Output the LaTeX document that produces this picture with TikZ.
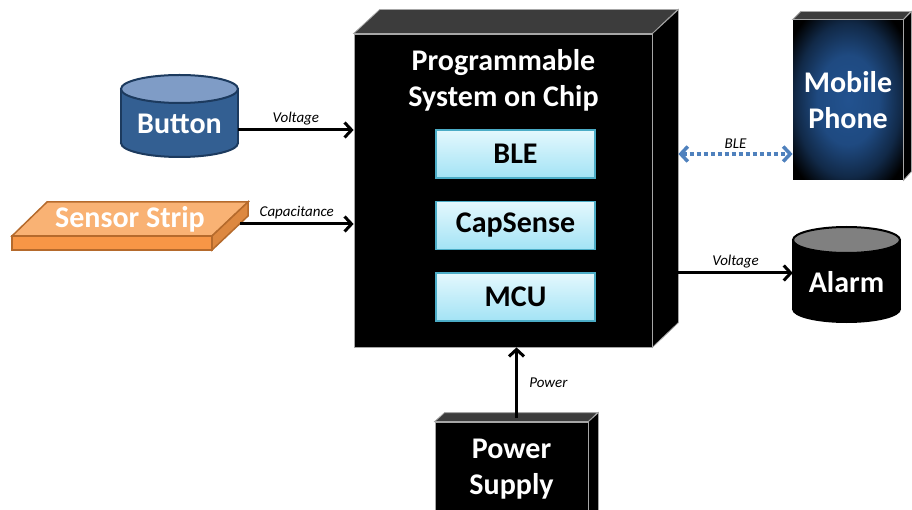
\documentclass[tikz,border=0pt]{standalone}
\usepackage{fontspec}
\setmainfont{Carlito}
\usetikzlibrary{arrows.meta}

\definecolor{cielHaut}{HTML}{E4F8FD}
\definecolor{cielBas}{HTML}{A3E3F5}
\definecolor{cielBord}{HTML}{4BACC6}
\definecolor{bleuCorps}{HTML}{335F92}
\definecolor{bleuDessus}{HTML}{7F9CC6}
\definecolor{bleuBord}{HTML}{1C3A5E}
\definecolor{bleuBLE}{HTML}{4F81BD}
\definecolor{bleuEcran}{HTML}{22528F}
\definecolor{orangeClair}{HTML}{F9B274}
\definecolor{orangeFace}{HTML}{F79646}
\definecolor{orangeCote}{HTML}{DD8840}
\definecolor{orangeBord}{HTML}{B56A2C}
\definecolor{grisDessus}{HTML}{3C3C3C}

% degrade de l'ecran du telephone
\pgfdeclareradialshading{ecran}{\pgfpoint{0bp}{0bp}}{color(0bp)=(bleuEcran); color(14bp)=(bleuEcran!90!black); color(24bp)=(bleuEcran!50!black); color(32bp)=(black); color(50bp)=(black)}

% cylindre : x centre, rayon x, y haut, y bas, rayon y, corps, dessus, bord
\newcommand{\cylindre}[8]{%
	\filldraw[fill=#6,draw=#8,line width=2pt] (#1,#4) ellipse [x radius=#2,y radius=#5];
	\fill[#6] ({#1-#2},#3) rectangle ({#1+#2},#4);
	\draw[#8,line width=2pt] ({#1-#2},#3) -- ({#1-#2},#4) ({#1+#2},#3) -- ({#1+#2},#4);
	\filldraw[fill=#7,draw=#8,line width=2pt] (#1,#3) ellipse [x radius=#2,y radius=#5];}

\begin{document}
\begin{tikzpicture}[x=1pt,y=-1pt]
		% Styles
		\tikzstyle{lien}=[-{Straight Barb[length=7pt,width=15pt]},line width=3pt]
		\tikzstyle{lienBLE}=[{Straight Barb[length=7pt,width=15pt]}-{Straight Barb[length=7pt,width=15pt]},line width=3.5pt,draw=bleuBLE,dash pattern=on 4pt off 3pt]
		\tikzstyle{bloc}=[inner sep=0pt,align=center,text=white,font=\fontsize{30}{36}\selectfont\bfseries]
		\tikzstyle{boite}=[fill=black,draw=gray!70,line width=0.8pt]
		\tikzstyle{dessus}=[fill=grisDessus,draw=gray!70,line width=0.8pt]
		\tikzstyle{module}=[draw=cielBord,line width=1.5pt,top color=cielHaut,bottom color=cielBas,minimum width=159pt,minimum height=48pt,inner sep=0pt,font=\fontsize{30}{36}\selectfont\bfseries]
		\tikzstyle{etiquette}=[midway,above,font=\fontsize{15}{18}\selectfont\itshape]
		% Dimensions
		\def\Prof{26}
		\clip (0,0) rectangle (912,510);
		
		% Programmable System on Chip
		\node[boite,minimum width=298pt,minimum height=313pt] (psoc) at (503,190.5) {};
		\draw[dessus] (psoc.north west) -- ++(\Prof,-24) -- ++(298,0) -- (psoc.north east) -- cycle;
		\draw[boite] (psoc.north east) -- ++(\Prof,-24) -- ++(0,313) -- (psoc.south east) -- cycle;
		\node[bloc] (titre) at (503.5,80) {Programmable\\System on Chip};
		\node[module] (ble) at (515.5,154) {BLE};
		\node[module] (capsense) at (515.5,225.5) {CapSense};
		\node[module] (mcu) at (515.5,297) {MCU};
		
		% Button
		\cylindre{179.5}{58.5}{89}{143}{14}{bleuCorps}{bleuDessus}{bleuBord}
		\node[bloc,minimum width=117pt] (button) at (179.5,124) {Button};
		
		% Sensor Strip
		\filldraw[fill=orangeClair,draw=orangeBord,line width=1.5pt] (12,236) -- (212,236) -- (248,202) -- (47,202) -- cycle;
		\filldraw[fill=orangeFace,draw=orangeBord,line width=1.5pt] (12,236) rectangle (212,250);
		\filldraw[fill=orangeCote,draw=orangeBord,line width=1.5pt] (212,236) -- (248,202) -- (248,216) -- (212,250) -- cycle;
		\node[bloc] (capteur) at (130,219) {Sensor Strip};
		\coordinate (capteurD) at (240,224);
		
		% Mobile Phone
		\node[boite,draw=none,minimum width=110pt,minimum height=160pt,shading=ecran] (mobile) at (848,100) {};
		\draw[dessus] (mobile.north west) -- ++(8,-8) -- ++(110,0) -- (mobile.north east) -- cycle;
		\draw[boite] (mobile.north east) -- ++(8,-8) -- ++(0,160) -- (mobile.south east) -- cycle;
		\node[bloc] at (mobile) {Mobile\\Phone};
		
		% Alarm
		\cylindre{846.5}{53.5}{240}{309}{13}{black}{gray}{black}
		\node[bloc,minimum width=107pt] (alarme) at (846.5,282) {Alarm};
		
		% Power Supply
		\node[boite,minimum width=153pt,minimum height=100pt] (alim) at (511.5,472) {};
		\draw[dessus] (alim.north west) -- ++(10,-9) -- ++(153,0) -- (alim.north east) -- cycle;
		\draw[boite] (alim.north east) -- ++(10,-9) -- ++(0,100) -- (alim.south east) -- cycle;
		\node[bloc] at (511.5,469) {Power\\Supply};
		\coordinate (alimHaut) at (516.5,418);
		
		% Liaisons
		\draw[lien] ([yshift=-6pt]button.east) -- ([yshift=-6pt]button.east -| psoc.west) node[etiquette] {Voltage};
		\draw[lien] (capteurD) -- (capteurD -| psoc.west) node[etiquette] {Capacitance};
		\draw[lienBLE] ([xshift=\Prof pt]psoc.east |- ble) -- (ble -| mobile.west) node[etiquette,text=black] {BLE};
		\draw[lien] ([xshift=\Prof pt,yshift=9pt]psoc.east |- alarme.west) -- ([yshift=9pt]alarme.west) node[etiquette] {Voltage};
		\draw[lien] (alimHaut) -- (alimHaut |- psoc.south) node[midway,right,xshift=8pt,font=\fontsize{15}{18}\selectfont\itshape] {Power};
		
	\end{tikzpicture}
\end{document}
